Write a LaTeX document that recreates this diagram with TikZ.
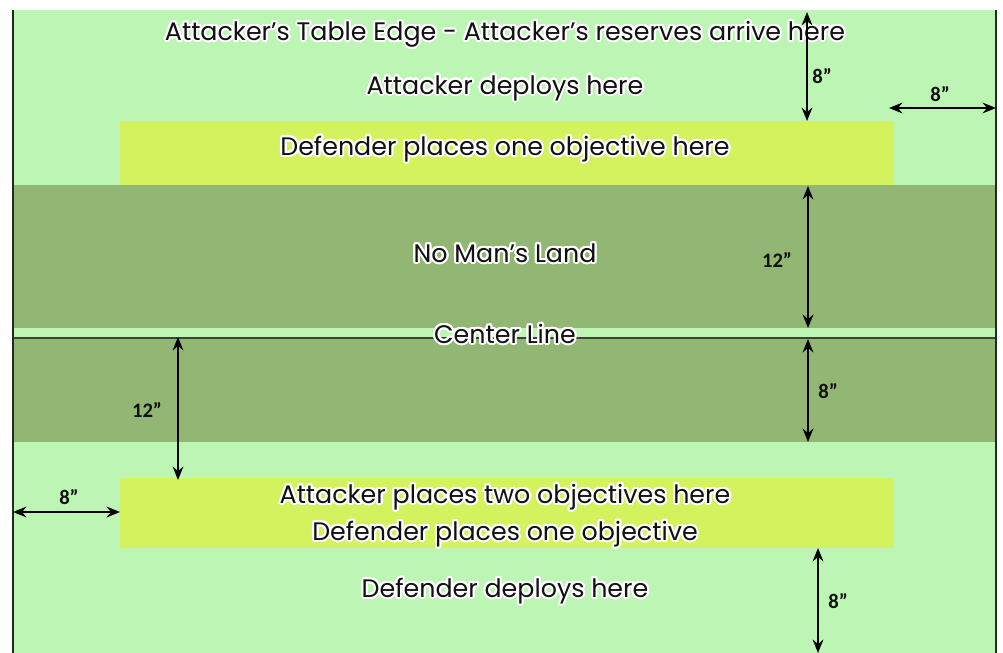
\documentclass[tikz,border=0pt]{standalone}
\usepackage{fontspec}
\setmainfont{Poppins}
\newfontfamily\dimfont{Carlito}
\usepackage{contour}
\contourlength{1.6pt}
\usetikzlibrary{arrows.meta}
\definecolor{lightg}{HTML}{BDF5B5}
\definecolor{yellowg}{HTML}{D4F25E}
\definecolor{darkg}{HTML}{92B673}
\definecolor{inkc}{HTML}{111111}
\begin{document}
\begin{tikzpicture}[x=0.75pt,y=-0.75pt,
  zonetext/.style={text=inkc,font=\fontsize{19}{22}\selectfont,inner sep=0pt},
  dimlabel/.style={text=inkc,font=\dimfont\bfseries\fontsize{15.5}{17}\selectfont,inner sep=0pt},
  dimarrow/.style={line width=1.5pt,black,{Stealth[length=10pt,width=8pt]}-{Stealth[length=10pt,width=8pt]}},
  border/.style={line width=1.8pt,black!85}]
\useasboundingbox (0,0) rectangle (1003,653);
\fill[white] (0,0) rectangle (1003,653);
% zones
\fill[lightg] (13,10) rectangle (996,653);
\fill[yellowg] (120,121) rectangle (893,185);
\fill[darkg] (13,185) rectangle (996,328);
\fill[lightg] (13,328) rectangle (996,337);
\fill[darkg] (13,339) rectangle (996,442);
\fill[yellowg] (120,478) rectangle (893,548);
\draw[line width=1.2pt,black!75] (13,338) -- (996,338);
\draw[border] (13,10) -- (13,653);
\draw[border] (996,10) -- (996,653);
% texts
\node[zonetext] (title) at (505,35) {\contour{white}{Attacker’s Table Edge - Attacker’s reserves arrive here}};
\node[zonetext] (adep) at (505,89) {\contour{white}{Attacker deploys here}};
\node[zonetext] (dobj) at (505,150) {\contour{white}{Defender places one objective here}};
\node[zonetext] (nml) at (505,254) {\contour{white}{No Man’s Land}};
\node[zonetext] (cl) at (505,335) {\contour{white}{Center Line}};
\node[zonetext] (aobj) at (505,498) {\contour{white}{Attacker places two objectives here}};
\node[zonetext] (dobj2) at (505,535) {\contour{white}{Defender places one objective}};
\node[zonetext] (ddep) at (505,592) {\contour{white}{Defender deploys here}};
% arrow endpoints
\coordinate (a1s) at (807,12);  \coordinate (a1e) at (807,121);
\coordinate (a2s) at (889,108); \coordinate (a2e) at (996,108);
\coordinate (a3s) at (808,186); \coordinate (a3e) at (808,328);
\coordinate (a4s) at (808,339); \coordinate (a4e) at (808,442);
\coordinate (a5s) at (178,337); \coordinate (a5e) at (178,480);
\coordinate (a6s) at (13,512);  \coordinate (a6e) at (120,512);
\coordinate (a7s) at (818,548); \coordinate (a7e) at (818,653);
\draw[dimarrow] (a1s) -- (a1e);
\draw[dimarrow] (a2s) -- (a2e);
\draw[dimarrow] (a3s) -- (a3e);
\draw[dimarrow] (a4s) -- (a4e);
\draw[dimarrow] (a5s) -- (a5e);
\draw[dimarrow] (a6s) -- (a6e);
\draw[dimarrow] (a7s) -- (a7e);
% dimension labels
\node[dimlabel] (l1) at (822,76) {8”};
\node[dimlabel] (l2) at (940,94) {8”};
\node[dimlabel] (l3) at (777,260) {12”};
\node[dimlabel] (l4) at (828,391) {8”};
\node[dimlabel] (l5) at (147,410) {12”};
\node[dimlabel] (l6) at (69,497) {8”};
\node[dimlabel] (l7) at (838,601) {8”};
\end{tikzpicture}
\end{document}
